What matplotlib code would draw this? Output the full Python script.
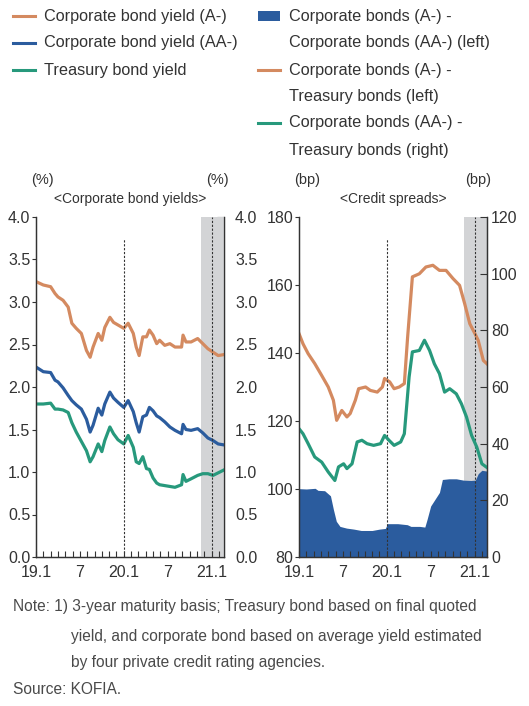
import matplotlib
matplotlib.use("Agg")
import matplotlib.pyplot as plt
from matplotlib.lines import Line2D
from matplotlib.patches import Rectangle

plt.rcParams['font.family'] = ['Liberation Sans', 'DejaVu Sans']

ORANGE = '#D48A60'
BLUE = '#2B5C9E'
GREEN = '#27997C'
SHADE = '#D3D4D6'
TEXT = '#333333'

# x values are months since 2019.1
yield_months = [0, 1, 2, 2.6, 3, 3.7, 4.4, 4.9, 5.5, 6.2,
                6.9, 7.4, 7.8, 8.5, 9, 9.4, 10.1, 10.6, 11.2, 12,
                12.6, 13.3, 13.7, 14.1, 14.6, 15.1, 15.5, 16, 16.5, 16.9,
                17.6, 18.3, 19, 19.9, 20.1, 20.5, 21.2, 22.1, 22.8, 23.5,
                24.2, 24.9, 25.6]
yield_a = [3.24, 3.20, 3.18, 3.10, 3.06, 3.02, 2.94, 2.75, 2.69, 2.63,
           2.43, 2.35, 2.47, 2.63, 2.55, 2.70, 2.82, 2.76, 2.73, 2.69,
           2.75, 2.63, 2.47, 2.37, 2.59, 2.59, 2.67, 2.61, 2.51, 2.55,
           2.49, 2.51, 2.47, 2.47, 2.61, 2.53, 2.53, 2.57, 2.51, 2.45,
           2.41, 2.37, 2.38]
yield_aa = [2.235, 2.18, 2.17, 2.08, 2.06, 1.99, 1.90, 1.84, 1.79, 1.74,
            1.62, 1.47, 1.55, 1.75, 1.67, 1.80, 1.94, 1.87, 1.82, 1.76,
            1.84, 1.71, 1.58, 1.47, 1.65, 1.67, 1.76, 1.72, 1.66, 1.64,
            1.59, 1.53, 1.49, 1.45, 1.56, 1.50, 1.49, 1.51, 1.46, 1.40,
            1.37, 1.33, 1.32]
yield_tb = [1.80, 1.80, 1.81, 1.74, 1.74, 1.73, 1.70, 1.58, 1.47, 1.36,
            1.25, 1.12, 1.18, 1.33, 1.24, 1.37, 1.53, 1.45, 1.38, 1.33,
            1.43, 1.29, 1.12, 1.10, 1.18, 1.04, 1.03, 0.93, 0.87, 0.85,
            0.84, 0.83, 0.82, 0.85, 0.97, 0.89, 0.92, 0.96, 0.98, 0.98,
            0.96, 0.99, 1.02]

spread_a_months = [0, 0.55, 1.25, 2.15, 3.1, 4.0, 4.7, 5.15, 5.85, 6.55,
                   7.0, 7.7, 8.15, 9.1, 9.75, 10.7, 11.4, 11.7, 12.4, 13.0,
                   13.7, 14.4, 14.85, 15.5, 16.45, 17.35, 18.3, 19.2, 20.1, 21.05,
                   21.95, 22.65, 23.35, 24.05, 24.5, 25.2, 25.9]
spread_a_tb = [145.7, 142.7, 139.8, 136.9, 133.4, 130.0, 126.1, 120.2, 123.1, 121.2,
               122.2, 126.1, 129.5, 130.0, 129.0, 128.5, 130.0, 132.5, 131.5, 129.5,
               130.0, 131.0, 144.7, 162.4, 163.3, 165.3, 165.8, 164.3, 164.3, 161.9,
               159.9, 154.5, 148.6, 145.7, 143.7, 137.8, 136.4]

spread_aa_months = [0, 0.55, 1.25, 2.15, 3.1, 4.0, 4.9, 5.4, 6.1, 6.55,
                    7.25, 7.95, 8.6, 9.3, 10.2, 11.15, 11.7, 12.3, 13.0, 13.9,
                    14.4, 15.05, 15.5, 16.45, 17.15, 17.85, 18.5, 19.2, 19.9, 20.6,
                    21.5, 22.2, 22.9, 23.6, 24.3, 25.0, 25.9]
spread_aa_tb = [45.3, 43.5, 40.0, 35.3, 33.5, 30.0, 27.0, 31.8, 32.9, 31.2,
                32.9, 40.6, 41.2, 40.0, 39.4, 40.0, 42.9, 41.2, 39.4, 40.6,
                43.5, 63.5, 72.4, 72.9, 76.5, 72.9, 68.2, 64.7, 58.2, 59.4,
                57.6, 54.1, 49.4, 42.9, 38.8, 32.9, 31.2]

gap_months = [0, 1.0, 2.2, 2.6, 3.5, 4.3, 4.7, 5.1, 5.6, 6.5,
              7.5, 8.5, 10.0, 11.0, 11.8, 12.1, 13.5, 14.8, 15.3, 16.5,
              17.2, 17.5, 18.0, 18.6, 19.2, 19.6, 20.5, 21.5, 22.5, 23.5,
              24.1, 24.5, 25.0, 25.9]
gap_a_aa = [100.1, 100.0, 100.2, 99.6, 99.5, 98.0, 94.0, 90.5, 89.0, 88.5,
            88.2, 87.8, 87.8, 88.2, 88.4, 89.8, 89.8, 89.5, 89.0, 89.0,
            88.8, 91.0, 95.0, 97.0, 99.0, 102.8, 103.0, 103.0, 102.6, 102.5,
            102.6, 104.5, 105.5, 105.2]

tick_pos = [0, 6, 12, 18, 24]
tick_labels = ['19.1', '7', '20.1', '7', '21.1']

XEND = 25.7
SHADE_START = 22.5
LW = 2.3

W, H = 529, 706
fig = plt.figure(figsize=(W / 100, H / 100), dpi=100)


def px_axes(x0, y0, x1, y1):
    return fig.add_axes([x0 / W, 1 - y1 / H, (x1 - x0) / W, (y1 - y0) / H])


def style_axes(ax, ax2, right_pad):
    ax.set_xlim(0, XEND)
    ax.set_xticks(tick_pos)
    ax.set_xticklabels(tick_labels)
    ax.set_xticks(range(0, 26), minor=True)
    ax.tick_params(axis='x', which='both', direction='in', length=4, width=0.8,
                   colors=TEXT, labelsize=11.5, pad=6)
    ax.tick_params(axis='y', direction='out', length=3, width=0.8, colors=TEXT,
                   labelsize=11.5, pad=1)
    ax2.tick_params(axis='y', direction='in', length=5, width=0.8, colors=TEXT,
                    labelsize=11.5, pad=right_pad)
    for a in (ax, ax2):
        a.spines['top'].set_visible(False)
        for s in ('left', 'right', 'bottom'):
            a.spines[s].set_color(TEXT)
            a.spines[s].set_linewidth(0.9)
    ax.axvspan(SHADE_START, XEND, color=SHADE, lw=0, zorder=0)
    ax.axvline(12, ymax=0.934, color=TEXT, lw=0.8, ls=(0, (2, 1.5)), zorder=3)
    ax.axvline(24, color=TEXT, lw=0.8, ls=(0, (2, 1.5)), zorder=3)


# left panel: yields
ax1 = px_axes(36, 217, 224, 557)
ax1r = ax1.twinx()
ax1.set_ylim(0, 4.0)
ax1r.set_ylim(0, 4.0)
ax1.set_yticks([0, 0.5, 1.0, 1.5, 2.0, 2.5, 3.0, 3.5, 4.0])
ax1r.set_yticks([0, 0.5, 1.0, 1.5, 2.0, 2.5, 3.0, 3.5, 4.0])
ax1.yaxis.set_major_formatter('{x:.1f}')
ax1r.yaxis.set_major_formatter('{x:.1f}')
ax1.plot(yield_months, yield_a, color=ORANGE, lw=LW, zorder=2)
ax1.plot(yield_months, yield_aa, color=BLUE, lw=LW, zorder=2)
ax1.plot(yield_months, yield_tb, color=GREEN, lw=LW, zorder=2)
style_axes(ax1, ax1r, 8)

# right panel: spreads
ax2 = px_axes(299, 217, 487, 557)
ax2r = ax2.twinx()
ax2.set_ylim(80, 180)
ax2.set_yticks([80, 100, 120, 140, 160, 180])
ax2r.set_ylim(0, 120)
ax2r.set_yticks([0, 20, 40, 60, 80, 100, 120])
ax2.fill_between(gap_months, 80, gap_a_aa, color=BLUE, lw=0, zorder=1)
ax2.plot(spread_a_months, spread_a_tb, color=ORANGE, lw=LW, zorder=2)
style_axes(ax2, ax2r, 3)
ax2r.plot(spread_aa_months, spread_aa_tb, color=GREEN, lw=LW, zorder=2)
ax2r.set_xlim(0, XEND)
ax1.set_zorder(ax1r.get_zorder() + 1)
ax1.patch.set_visible(False)

# panel titles and units
fig.text(130 / W, 1 - 199 / H, '<Corporate bond yields>', ha='center', va='center',
         fontsize=10, color=TEXT)
fig.text(393 / W, 1 - 199 / H, '<Credit spreads>', ha='center', va='center',
         fontsize=10, color=TEXT)
fig.text(42 / W, 1 - 180 / H, '(%)', ha='center', va='center', fontsize=10.5, color=TEXT)
fig.text(217 / W, 1 - 180 / H, '(%)', ha='center', va='center', fontsize=10.5, color=TEXT)
fig.text(307 / W, 1 - 180 / H, '(bp)', ha='center', va='center', fontsize=10.5, color=TEXT)
fig.text(478 / W, 1 - 180 / H, '(bp)', ha='center', va='center', fontsize=10.5, color=TEXT)

# legend, drawn by hand
LEG_FS = 11.7


def leg_line(x, y, color):
    fig.add_artist(Line2D([x / W, (x + 22) / W], [1 - y / H, 1 - y / H],
                          color=color, lw=2.2, transform=fig.transFigure))


def leg_text(x, y, s):
    fig.text(x / W, 1 - y / H, s, ha='left', va='center', fontsize=LEG_FS, color=TEXT)


leg_line(13, 16, ORANGE)
leg_text(44, 16, 'Corporate bond yield (A-)')
leg_line(13, 43, BLUE)
leg_text(44, 43, 'Corporate bond yield (AA-)')
leg_line(13, 70, GREEN)
leg_text(44, 70, 'Treasury bond yield')

fig.add_artist(Rectangle((258 / W, 1 - 21 / H), 22 / W, 10 / H, color=BLUE,
                         lw=0, transform=fig.transFigure))
leg_text(289, 16, 'Corporate bonds (A-) -')
leg_text(289, 43, 'Corporate bonds (AA-) (left)')
leg_line(258, 70, ORANGE)
leg_text(289, 70, 'Corporate bonds (A-) -')
leg_text(289, 97, 'Treasury bonds (left)')
leg_line(258, 123, GREEN)
leg_text(289, 123, 'Corporate bonds (AA-) -')
leg_text(289, 150, 'Treasury bonds (right)')

# note
NOTE_C = '#4A4A4A'
NOTE_FS = 11.2
fig.text(13 / W, 1 - 607 / H, 'Note: 1) 3-year maturity basis; Treasury bond based on final quoted',
         ha='left', va='center', fontsize=NOTE_FS, color=NOTE_C)
fig.text(71 / W, 1 - 636 / H, 'yield, and corporate bond based on average yield estimated',
         ha='left', va='center', fontsize=NOTE_FS, color=NOTE_C)
fig.text(71 / W, 1 - 663 / H, 'by four private credit rating agencies.',
         ha='left', va='center', fontsize=NOTE_FS, color=NOTE_C)
fig.text(13 / W, 1 - 689 / H, 'Source: KOFIA.',
         ha='left', va='center', fontsize=NOTE_FS, color=NOTE_C)

fig.savefig('out.png', dpi=100)
